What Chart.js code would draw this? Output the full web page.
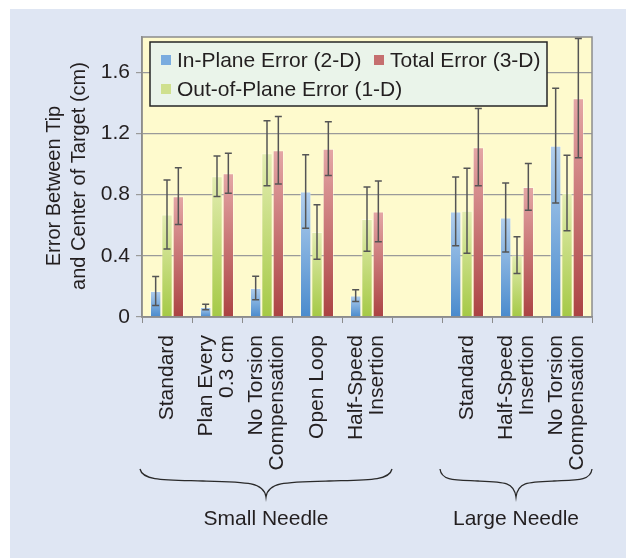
<!DOCTYPE html>
<html>
<head>
<meta charset="utf-8">
<script src="https://cdn.jsdelivr.net/npm/chart.js@4"></script>
<style>
  html, body { margin: 0; padding: 0; background: #ffffff; }
  #wrap { width: 628px; height: 559px; }
</style>
</head>
<body>
<div id="wrap"><canvas id="c" width="628" height="559"></canvas></div>
<script>
// ---- Data ----
const categories = [
  ["Standard"],
  ["Plan Every", "0.3 cm"],
  ["No Torsion", "Compensation"],
  ["Open Loop"],
  ["Half-Speed", "Insertion"],
  [""],
  ["Standard"],
  ["Half-Speed", "Insertion"],
  ["No Torsion", "Compensation"]
];
const groupLabels = ["Small Needle", "Large Needle"];
const groupRanges = [[0, 4], [6, 8]];

const seriesNames = ["In-Plane Error (2-D)", "Out-of-Plane Error (1-D)", "Total Error (3-D)"];
const inPlane     = [0.17, 0.065, 0.19, 0.82, 0.14, null, 0.69, 0.65, 1.12];
const outOfPlane  = [0.67, 0.92, 1.07, 0.555, 0.64, null, 0.695, 0.405, 0.81];
const totalErr    = [0.79, 0.94, 1.09, 1.10, 0.69, null, 1.11, 0.85, 1.43];

const inPlaneErr    = [0.095, 0.018, 0.077, 0.24, 0.038, null, 0.225, 0.225, 0.375];
const outOfPlaneErr = [0.225, 0.133, 0.212, 0.178, 0.21, null, 0.278, 0.12, 0.247];
const totalErrErr   = [0.185, 0.131, 0.22, 0.176, 0.199, null, 0.252, 0.153, 0.39];

const yTicks = [0, 0.4, 0.8, 1.2, 1.6];
const yTitle = ["Error Between Tip", "and Center of Target (cm)"];

// ---- Styling ----
const FONT = "'Liberation Sans', Arial, Helvetica, sans-serif";
const TEXT = '#231f20';
const colors = [
  { top: '#b2cfee', bottom: '#4a8bcd', swatch: '#7aacdf' },
  { top: '#e3edb2', bottom: '#a5c946', swatch: '#cfe08e' },
  { top: '#e4a6a6', bottom: '#ab4343', swatch: '#c56f6f' }
];

function grad(c) {
  return (ctx) => {
    const chart = ctx.chart;
    const y = chart.scales && chart.scales.y;
    if (!y || ctx.raw == null || ctx.type !== 'data') return c.bottom;
    const yT = y.getPixelForValue(ctx.raw);
    const yB = y.getPixelForValue(0);
    if (!isFinite(yT) || !isFinite(yB) || yT === yB) return c.bottom;
    const g = chart.ctx.createLinearGradient(0, yT, 0, yB);
    g.addColorStop(0, c.top);
    g.addColorStop(1, c.bottom);
    return g;
  };
}

const values = [inPlane, outOfPlane, totalErr];
const errors = [inPlaneErr, outOfPlaneErr, totalErrErr];

const decorPlugin = {
  id: 'decor',
  beforeDraw(chart) {
    const ctx = chart.ctx;
    const a = chart.chartArea;
    ctx.save();
    ctx.fillStyle = '#ffffff';
    ctx.fillRect(0, 0, chart.width, chart.height);
    ctx.fillStyle = '#dfe6f3';
    ctx.fillRect(10, 9, 616, 549);
    ctx.fillStyle = '#fefacd';
    ctx.fillRect(a.left, a.top, a.right - a.left, a.bottom - a.top);
    ctx.restore();
  },
  afterDatasetsDraw(chart) {
    const ctx = chart.ctx;
    const ys = chart.scales.y;
    const a = chart.chartArea;
    ctx.save();
    // plot frame
    ctx.strokeStyle = '#8c8c8c';
    ctx.lineWidth = 1.5;
    ctx.strokeRect(a.left, a.top, a.right - a.left, a.bottom - a.top);

    // error bars
    ctx.strokeStyle = '#555555';
    ctx.lineWidth = 1.5;
    values.forEach((vals, d) => {
      const meta = chart.getDatasetMeta(d);
      meta.data.forEach((bar, i) => {
        const v = vals[i], e = errors[d][i];
        if (v == null || e == null) return;
        const x = bar.x;
        const y1 = ys.getPixelForValue(v + e);
        const y2 = ys.getPixelForValue(v - e);
        ctx.beginPath();
        ctx.moveTo(x, y1); ctx.lineTo(x, y2);
        ctx.moveTo(x - 3.5, y1); ctx.lineTo(x + 3.5, y1);
        ctx.moveTo(x - 3.5, y2); ctx.lineTo(x + 3.5, y2);
        ctx.stroke();
      });
    });

    // legend
    const lx = a.left + 8, ly = a.top + 5, lw = 397, lh = 64;
    ctx.fillStyle = '#eaf4ea';
    ctx.fillRect(lx, ly, lw, lh);
    ctx.strokeStyle = '#262626';
    ctx.lineWidth = 1.5;
    ctx.strokeRect(lx, ly, lw, lh);
    const items = [
      { d: 0, x: lx + 11, y: ly + 18 },
      { d: 2, x: lx + 224, y: ly + 18 },
      { d: 1, x: lx + 11, y: ly + 47 }
    ];
    ctx.font = '21px ' + FONT;
    ctx.textBaseline = 'middle';
    ctx.textAlign = 'left';
    items.forEach(it => {
      ctx.fillStyle = colors[it.d].swatch;
      ctx.fillRect(it.x, it.y - 5, 10, 10);
      ctx.fillStyle = TEXT;
      ctx.fillText(seriesNames[it.d], it.x + 16, it.y + 1);
    });

    ctx.restore();
  },
  afterDraw(chart) {
    const ctx = chart.ctx;
    const xs = chart.scales.x;
    const a = chart.chartArea;
    ctx.save();
    ctx.fillStyle = TEXT;

    // x category labels (rotated)
    ctx.font = '21px ' + FONT;
    const lineH = 21;
    categories.forEach((lines, i) => {
      const cx = xs.getPixelForValue(i);
      const n = lines.length;
      lines.forEach((t, j) => {
        const x = cx + (j - (n - 1) / 2) * lineH;
        ctx.save();
        ctx.translate(x, a.bottom + 18);
        ctx.rotate(-Math.PI / 2);
        ctx.textAlign = 'right';
        ctx.textBaseline = 'middle';
        ctx.fillText(t, 0, 0);
        ctx.restore();
      });
    });

    // y title
    ctx.font = '20px ' + FONT;
    const midY = (a.top + a.bottom) / 2;
    const titlePos = [{ x: 54, y: midY + 9 }, { x: 79, y: midY - 1 }];
    yTitle.forEach((t, k) => {
      ctx.save();
      ctx.translate(titlePos[k].x, titlePos[k].y);
      ctx.rotate(-Math.PI / 2);
      ctx.textAlign = 'center';
      ctx.textBaseline = 'middle';
      ctx.fillText(t, 0, 0);
      ctx.restore();
    });

    // braces + group labels
    ctx.font = '21px ' + FONT;
    const half = (xs.getPixelForValue(1) - xs.getPixelForValue(0)) / 2;
    const yT = 469, yM = 481, yTip = 497;
    ctx.strokeStyle = '#2a2a2a';
    ctx.lineWidth = 1.3;
    groupRanges.forEach((r, k) => {
      const x0 = xs.getPixelForValue(r[0]) - half - 2;
      const x1 = xs.getPixelForValue(r[1]) + half;
      const xc = (x0 + x1) / 2;
      const w = xc - x0;
      ctx.beginPath();
      ctx.moveTo(x0, yT);
      ctx.bezierCurveTo(x0 + 0.02 * w, yM, x0 + 0.2 * w, yM - 1, x0 + 0.5 * w, yM);
      ctx.bezierCurveTo(xc - 0.15 * w, yM + 1, xc - 2, yM + 1, xc, yTip);
      ctx.bezierCurveTo(xc + 2, yM + 1, xc + 0.15 * w, yM + 1, x1 - 0.5 * w, yM);
      ctx.bezierCurveTo(x1 - 0.2 * w, yM - 1, x1 - 0.02 * w, yM, x1, yT);
      ctx.stroke();
      ctx.textAlign = 'center';
      ctx.textBaseline = 'middle';
      ctx.fillText(groupLabels[k], xc, 519);
    });
    ctx.restore();
  }
};

new Chart(document.getElementById('c'), {
  type: 'bar',
  data: {
    labels: categories.map(l => l.join(' ')),
    datasets: values.map((v, d) => ({
      label: seriesNames[d],
      data: v,
      backgroundColor: grad(colors[d]),
      borderColor: 'rgba(255,255,255,0.35)',
      borderWidth: 1,
      categoryPercentage: 0.68,
      barPercentage: 1.0
    }))
  },
  options: {
    responsive: false,
    animation: false,
    devicePixelRatio: 1,
    layout: { padding: { top: 37, right: 36, left: 0, bottom: 0 } },
    plugins: { legend: { display: false }, tooltip: { enabled: false } },
    scales: {
      x: {
        grid: { display: true, drawOnChartArea: false, drawTicks: true, tickLength: 6, color: '#8c8c8c', offset: true },
        border: { display: true, color: '#8c8c8c', width: 1.5 },
        ticks: { display: false },
        afterFit: s => { s.height = 559 - 317; }
      },
      y: {
        min: 0,
        max: 1.83,
        afterBuildTicks: s => { s.ticks = yTicks.map(v => ({ value: v })); },
        ticks: {
          color: TEXT,
          font: { family: FONT, size: 21 },
          padding: 6,
          callback: v => (v === 0 ? '0' : v.toFixed(1))
        },
        grid: { color: '#9a9a9a', lineWidth: 1.2, tickLength: 6, drawTicks: true },
        border: { display: true, color: '#8c8c8c', width: 1.5 },
        afterFit: s => { s.width = 142; }
      }
    }
  },
  plugins: [decorPlugin]
});
</script>
</body>
</html>
